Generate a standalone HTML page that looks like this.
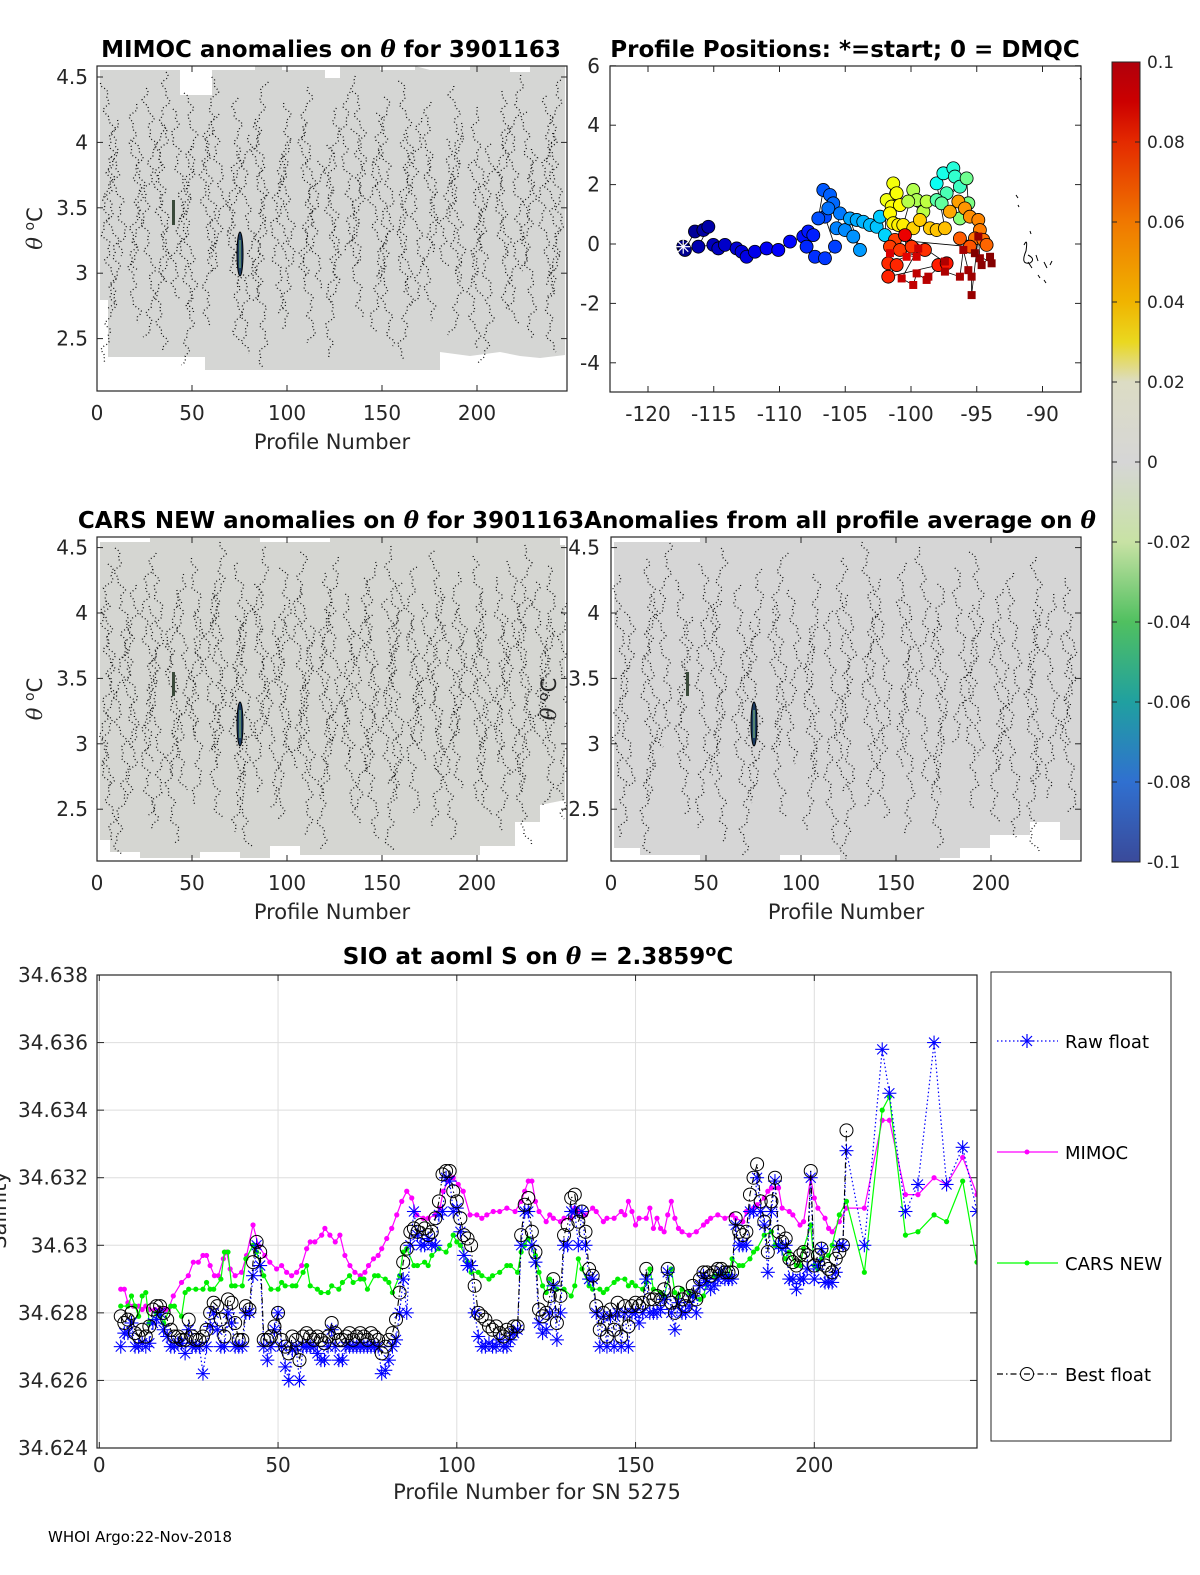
<!DOCTYPE html>
<html><head><meta charset="utf-8"><style>
html,body{margin:0;padding:0;background:#fff;}
svg{display:block;font-family:"DejaVu Sans","Liberation Sans",sans-serif;}
.tk{font-size:20px;fill:#262626;}
.lb{font-size:21px;fill:#262626;}
.ttl{font-size:23px;font-weight:bold;fill:#000;}
</style></head><body>
<svg id="fig" width="1200" height="1575" viewBox="0 0 1200 1575" xmlns="http://www.w3.org/2000/svg">
<defs>
<linearGradient id="cbar" x1="0" y1="0" x2="0" y2="1">
<stop offset="0" stop-color="#b0000c"/><stop offset="0.05" stop-color="#cc0000"/>
<stop offset="0.1" stop-color="#e42a00"/><stop offset="0.2" stop-color="#f07800"/>
<stop offset="0.3" stop-color="#f0b400"/><stop offset="0.35" stop-color="#ead820"/>
<stop offset="0.4" stop-color="#dcdcc4"/><stop offset="0.5" stop-color="#d6d6d6"/>
<stop offset="0.6" stop-color="#c8e2a4"/><stop offset="0.7" stop-color="#50c060"/>
<stop offset="0.8" stop-color="#20a0a0"/><stop offset="0.9" stop-color="#3070d0"/>
<stop offset="1" stop-color="#3a4a9a"/>
</linearGradient>
<clipPath id="clipA"><rect x="97" y="66" width="470" height="325"/></clipPath>
<clipPath id="clipC"><rect x="97" y="537" width="470" height="324"/></clipPath>
<clipPath id="clipD"><rect x="611" y="537" width="470" height="324"/></clipPath>
<clipPath id="clipM"><rect x="610" y="66" width="471" height="326"/></clipPath>
<clipPath id="clipS"><rect x="97" y="975" width="880" height="473"/></clipPath>
</defs>

<text class="ttl" x="331" y="57" text-anchor="middle">MIMOC anomalies on <tspan font-style="italic" font-family="DejaVu Serif">θ</tspan>  for 3901163</text>
<text class="ttl" x="845" y="57" text-anchor="middle">Profile Positions: *=start; 0 = DMQC</text>
<text class="ttl" x="331" y="528" text-anchor="middle">CARS NEW anomalies on <tspan font-style="italic" font-family="DejaVu Serif">θ</tspan> for 3901163</text>
<text class="ttl" x="840" y="528" text-anchor="middle">Anomalies from all profile average on <tspan font-style="italic" font-family="DejaVu Serif">θ</tspan></text>
<text class="ttl" x="538" y="964" text-anchor="middle">SIO at aoml S on <tspan font-style="italic" font-family="DejaVu Serif">θ</tspan> = 2.3859<tspan dy="-8" font-size="16">o</tspan><tspan dy="8">C</tspan></text>

<g id="panelA">
<polygon fill="#d5d6d4" points="100,70 180,70 180,95 212,95 212,70 255,70 255,66 282,66 282,70 325,70 325,78 340,78 340,66 380,66 380,70 415,70 415,66 430,70 470,70 470,66 510,66 510,72 530,72 530,66 565,66 565,355 540,358 520,356 500,352 470,356 440,352 440,370 420,370 400,370 330,370 300,370 230,370 205,370 205,357 108,357 108,300 100,300"/>
<g id="contA" clip-path="url(#clipA)"></g>
<ellipse cx="240" cy="254" rx="3" ry="22" fill="#1a3a60" stroke="#000" stroke-width="1"/>
<line x1="240" y1="240" x2="240" y2="268" stroke="#8fd080" stroke-width="1"/>
<rect x="172" y="200" width="3" height="25" fill="#3a4a3a"/>
<rect x="97" y="66" width="470" height="325" fill="none" stroke="#262626" stroke-width="1.2"/>
</g>

<g id="panelC">
<polygon fill="#d5d6d2" points="100,542 150,542 150,538 260,538 260,542 330,542 330,538 560,538 560,545 565,545 565,800 540,805 540,822 515,822 515,846 480,846 480,855 300,855 300,846 270,846 270,858 240,858 240,852 200,852 200,858 140,858 140,852 110,852 110,840 100,840"/>
<g id="contC" clip-path="url(#clipC)"></g>
<ellipse cx="240" cy="724" rx="3" ry="22" fill="#1a3a60" stroke="#000" stroke-width="1"/>
<line x1="240" y1="710" x2="240" y2="738" stroke="#8fd080" stroke-width="1"/>
<rect x="172" y="672" width="3" height="24" fill="#3a4a3a"/>
<rect x="97" y="537" width="470" height="324" fill="none" stroke="#262626" stroke-width="1.2"/>
</g>

<g id="panelD">
<polygon fill="#d6d6d6" points="614,542 700,542 700,538 1080,538 1080,840 1060,840 1060,822 1030,822 1030,835 990,835 990,848 960,848 960,858 940,858 940,861 840,861 840,855 780,855 780,861 700,861 700,855 640,855 640,848 614,848"/>
<g id="contD" clip-path="url(#clipD)"></g>
<ellipse cx="754" cy="724" rx="3" ry="22" fill="#1a3a60" stroke="#000" stroke-width="1"/>
<line x1="754" y1="710" x2="754" y2="738" stroke="#8fd080" stroke-width="1"/>
<rect x="686" y="672" width="3" height="24" fill="#3a4a3a"/>
<rect x="611" y="537" width="470" height="324" fill="none" stroke="#262626" stroke-width="1.2"/>
</g>

<g id="colorbar">
<rect x="1112" y="62" width="28" height="800" fill="url(#cbar)" stroke="#262626" stroke-width="1"/>
</g>

<g id="mapG">
<rect x="610" y="66" width="471" height="326" fill="none" stroke="#262626" stroke-width="1.2"/>
</g>

<g id="salG"></g>

<g id="legend">
<rect x="991" y="972" width="180" height="469" fill="#fff" stroke="#262626" stroke-width="1"/>
<g>
<line x1="997" y1="1041" x2="1058" y2="1041" stroke="#0000ff" stroke-width="1.2" stroke-dasharray="1.5 2.5"/>
<g stroke="#0000ff" stroke-width="1.2"><line x1="1020" y1="1041" x2="1034" y2="1041"/><line x1="1027" y1="1034" x2="1027" y2="1048"/><line x1="1022" y1="1036" x2="1032" y2="1046"/><line x1="1032" y1="1036" x2="1022" y2="1046"/></g>
<text x="1065" y="1048" font-size="18" fill="#000">Raw float</text></g>
<g>
<line x1="997" y1="1152" x2="1058" y2="1152" stroke="#ff00ff" stroke-width="1.2"/><circle cx="1027" cy="1152" r="2.5" fill="#ff00ff"/>
<text x="1065" y="1159" font-size="18" fill="#000">MIMOC</text></g>
<g>
<line x1="997" y1="1263" x2="1058" y2="1263" stroke="#00ff00" stroke-width="1.2"/><circle cx="1027" cy="1263" r="2.5" fill="#00ff00"/>
<text x="1065" y="1270" font-size="18" fill="#000">CARS NEW</text></g>
<g>
<line x1="997" y1="1374" x2="1058" y2="1374" stroke="#000" stroke-width="1.2" stroke-dasharray="6 3 1.5 3"/><circle cx="1027" cy="1374" r="6.5" fill="none" stroke="#000" stroke-width="1"/>
<text x="1065" y="1381" font-size="18" fill="#000">Best float</text></g>
</g>

<text x="48" y="1542" font-size="15" fill="#000">WHOI Argo:22-Nov-2018</text>
</svg>
<script>
const denseStart = 6;
const rawDense = [34.6270,34.6274,34.6274,34.6277,34.6270,34.6270,34.6271,34.6270,34.6271,34.6277,34.6278,34.6280,34.6275,34.6273,34.6270,34.6270,34.6271,34.6271,34.6268,34.6275,34.6270,34.6270,34.6270,34.6262,34.6270,34.6276,34.6280,34.6275,34.6270,34.6270,34.6280,34.6277,34.6270,34.6270,34.6270,34.6280,34.6280,34.6291,34.6300,34.6294,34.6270,34.6266,34.6270,34.6275,34.6280,34.6270,34.6264,34.6260,34.6269,34.6270,34.6260,34.6270,34.6270,34.6270,34.6270,34.6268,34.6266,34.6266,34.6270,34.6275,34.6270,34.6266,34.6266,34.6270,34.6270,34.6270,34.6270,34.6270,34.6270,34.6270,34.6270,34.6270,34.6270,34.6262,34.6263,34.6266,34.6270,34.6272,34.6280,34.6290,34.6280,34.6300,34.6310,34.6303,34.6300,34.6300,34.6302,34.6300,34.6300,34.6309,34.6310,34.6320,34.6319,34.6310,34.6311,34.6304,34.6297,34.6294,34.6294,34.6280,34.6273,34.6270,34.6270,34.6271,34.6270,34.6270,
34.6272,34.6270,34.6270,34.6272,34.6274,34.6275,34.6300,34.6310,34.6310,34.6300,34.6295,34.6277,34.6274,34.6275,34.6280,34.6288,34.6272,34.6280,34.6300,34.6300,34.6310,34.6310,34.6300,34.6310,34.6300,34.6290,34.6290,34.6280,34.6270,34.6279,34.6270,34.6279,34.6270,34.6280,34.6270,34.6280,34.6270,34.6280,34.6280,34.6277,34.6280,34.6290,34.6280,34.6280,34.6280,34.6281,34.6284,34.6292,34.6280,34.6275,34.6283,34.6280,34.6280,34.6282,34.6285,34.6280,34.6288,34.6291,34.6289,34.6287,34.6288,34.6290,34.6292,34.6290,34.6290,34.6290,34.6306,34.6300,34.6300,34.6300,34.6310,34.6310,34.6320,34.6310,34.6306,34.6292,34.6310,34.6319,34.6300,34.6299,34.6300,34.6290,34.6290,34.6287,34.6290,34.6290,34.6293,34.6320,34.6290,34.6294,34.6299,34.6289,34.6289,34.6289,34.6292,34.6300,34.6300];
const sparseProf = [209,214,219,221,225.5,229,233.5,237,241.5,245.5];
const rawSparse = [34.6328,34.6300,34.6358,34.6345,34.6310,34.6318,34.6360,34.6318,34.6329,34.6310];
const bestDense = [34.6279,34.6277,34.6278,34.6280,34.6274,34.6273,34.6275,34.6273,34.6276,34.6281,34.6282,34.6282,34.6280,34.6278,34.6275,34.6273,34.6273,34.6272,34.6272,34.6278,34.6273,34.6272,34.6272,34.6273,34.6275,34.6280,34.6283,34.6282,34.6278,34.6273,34.6284,34.6283,34.6277,34.6272,34.6272,34.6282,34.6281,34.6295,34.6301,34.6298,34.6272,34.6272,34.6273,34.6276,34.6280,34.6272,34.6270,34.6268,34.6273,34.6272,34.6266,34.6273,34.6274,34.6273,34.6272,34.6273,34.6272,34.6271,34.6273,34.6277,34.6274,34.6272,34.6272,34.6273,34.6274,34.6272,34.6273,34.6274,34.6273,34.6272,34.6274,34.6273,34.6272,34.6268,34.6270,34.6272,34.6274,34.6278,34.6286,34.6295,34.6299,34.6304,34.6305,34.6304,34.6306,34.6305,34.6303,34.6304,34.6308,34.6313,34.6321,34.6322,34.6322,34.6316,34.6313,34.6308,34.6303,34.6302,34.6300,34.6288,34.6280,34.6279,34.6278,34.6276,34.6275,34.6276,
34.6274,34.6273,34.6275,34.6274,34.6276,34.6276,34.6303,34.6312,34.6314,34.6304,34.6298,34.6281,34.6279,34.6280,34.6285,34.6290,34.6277,34.6285,34.6303,34.6306,34.6314,34.6315,34.6307,34.6310,34.6304,34.6293,34.6291,34.6282,34.6275,34.6280,34.6273,34.6281,34.6275,34.6283,34.6273,34.6282,34.6276,34.6282,34.6283,34.6282,34.6283,34.6293,34.6284,34.6284,34.6285,34.6284,34.6287,34.6293,34.6283,34.6280,34.6286,34.6284,34.6282,34.6285,34.6288,34.6284,34.6290,34.6292,34.6292,34.6291,34.6292,34.6293,34.6293,34.6292,34.6292,34.6292,34.6308,34.6304,34.6303,34.6304,34.6315,34.6320,34.6324,34.6313,34.6307,34.6298,34.6313,34.6320,34.6304,34.6301,34.6302,34.6296,34.6295,34.6294,34.6297,34.6298,34.6297,34.6322,34.6294,34.6297,34.6299,34.6294,34.6293,34.6292,34.6296,34.6298,34.6300,34.6334];
const mimocProf = [6,7,8,9.5,11,12,13,14,15.6,17,18.4,19.3,20.7,23,24.9,26.3,27.7,29,30,31,32.2,33.3,34.7,35.6,36.6,38,39.8,41.2,43,44.5,46.3,47.7,49.6,51,52.4,53.8,55.2,56.6,58,59,60.3,62.2,63.1,64.5,66,67.3,68.7,70.1,71.5,73,74.3,75.3,76.7,78,79,80.4,81.8,83.2,84.6,86,87.4,88.8,90.6,92,94,95.3,96.2,97.6,99,100.4,101.8,103.7,105.6,107,108.4,110.2,112,114,116.3,118,119,120,121,122,123,125,126,127,129,130,132,133,134,136,138,139,141,142,144,146,147,148,149,150,151,153,154,155,156,157,158,159,160,161,162,163,165,167,169,170,171,173,175,177,178,180,181,183,184,186,187,188,190,191,193,194,196,197,199,200,201,203,204,205,207,209,214,219,221,225.5,229,233.5,237,241.5,245.5];
const mimocVal = [34.6287,34.6287,34.6283,34.6282,34.6282,34.6281,34.6282,34.6281,34.6281,34.6281,34.6281,34.6281,34.6285,34.6289,34.6291,34.6295,34.6295,34.6297,34.6297,34.6294,34.6291,34.6291,34.6296,34.6298,34.6293,34.6291,34.6292,34.6297,34.6306,34.6300,34.6297,34.6295,34.6293,34.6294,34.6292,34.6291,34.6292,34.6294,34.6299,34.6301,34.6301,34.6303,34.6305,34.6303,34.6301,34.6303,34.6297,34.6294,34.6292,34.6291,34.6292,34.6294,34.6296,34.6297,34.6299,34.6302,34.6305,34.6309,34.6313,34.6316,34.6314,34.6309,34.6308,34.6308,34.6309,34.6311,34.6316,34.6319,34.6320,34.6318,34.6316,34.6309,34.6309,34.6308,34.6309,34.6310,34.6310,34.6311,34.6310,34.6313,34.6316,34.6319,34.6319,34.6313,34.6310,34.6307,34.6309,34.6308,34.6307,34.6308,34.6308,34.6311,34.6310,34.6309,34.6311,34.6310,34.6307,34.6308,34.6308,34.6310,34.6309,34.6313,34.6310,34.6306,34.6308,34.6308,34.6311,34.6305,34.6308,34.6305,34.6304,34.6309,34.6313,34.6308,34.6305,34.6304,34.6303,34.6304,34.6306,34.6307,34.6308,34.6309,34.6308,34.6309,34.6308,34.6307,34.6310,34.6311,34.6312,34.6314,34.6316,34.6317,34.6317,34.6311,34.6310,34.6309,34.6306,34.6307,34.6320,34.6314,34.6311,34.6308,34.6305,34.6304,34.6307,34.6311,34.6311,34.6337,34.6337,34.6315,34.6315,34.6320,34.6318,34.6326,34.6315];
const carsProf = [6,8,9,10,11,12,13,14,16,17,18,20,21,23,24,25,27,29,30,31,32,34,35,36,37,38,40,41,43,44,46,48,50,51,52,54,55,57,58,59,61,62,64,65,67,68,70,71,73,74,75,77,78,80,81,82,84,85,86,88,89,91,92,93,95,97,98,99,100,101,103,104,106,107,109,110,112,114,115,117,118,119,120,122,123,124,125,126,128,130,132,133,134,135,137,138,140,141,142,144,145,147,148,149,150,152,153,154,155,157,158,160,161,162,163,165,166,168,169,170,172,174,176,177,179,180,182,183,184,186,188,189,190,192,193,195,196,197,199,200,201,202,204,205,207,209,214,219,221,225.5,229,233.5,237,241.5,245.5];
const carsVal = [34.6282,34.6282,34.6285,34.6282,34.6279,34.6285,34.6286,34.6277,34.6280,34.6279,34.6277,34.6282,34.6282,34.6279,34.6286,34.6287,34.6287,34.6287,34.6289,34.6287,34.6287,34.6290,34.6298,34.6298,34.6288,34.6288,34.6288,34.6296,34.6300,34.6298,34.6291,34.6287,34.6287,34.6289,34.6288,34.6288,34.6288,34.6292,34.6294,34.6288,34.6287,34.6286,34.6286,34.6288,34.6287,34.6289,34.6291,34.6289,34.6290,34.6290,34.6287,34.6291,34.6291,34.6290,34.6289,34.6286,34.6291,34.6298,34.6299,34.6294,34.6294,34.6295,34.6294,34.6297,34.6299,34.6298,34.6300,34.6303,34.6301,34.6300,34.6295,34.6292,34.6292,34.6291,34.6290,34.6291,34.6292,34.6294,34.6294,34.6292,34.6298,34.6300,34.6302,34.6297,34.6292,34.6288,34.6286,34.6290,34.6287,34.6287,34.6285,34.6288,34.6296,34.6293,34.6288,34.6287,34.6287,34.6286,34.6287,34.6289,34.6290,34.6290,34.6288,34.6289,34.6288,34.6287,34.6289,34.6293,34.6287,34.6286,34.6285,34.6293,34.6286,34.6285,34.6287,34.6286,34.6285,34.6284,34.6285,34.6289,34.6291,34.6292,34.6291,34.6296,34.6294,34.6294,34.6296,34.6298,34.6299,34.6303,34.6304,34.6300,34.6300,34.6296,34.6298,34.6294,34.6294,34.6299,34.6306,34.6294,34.6293,34.6296,34.6297,34.6300,34.6309,34.6313,34.6292,34.6340,34.6344,34.6303,34.6304,34.6309,34.6307,34.6319,34.6295];
const sTicksY = [34.624,34.626,34.628,34.63,34.632,34.634,34.636,34.638];
const sTickLabY = ["34.624","34.626","34.628","34.63","34.632","34.634","34.636","34.638"];
const sTicksX = [0,50,100,150,200];

const mapLon = [-117.32,-117.19,-116.43,-115.79,-115.41,-116.17,-115.03,-114.65,-114.15,-113.26,-112.88,-112.50,-111.87,-110.98,-110.09,-109.20,-108.19,-107.81,-107.43,-107.94,-107.30,-106.54,-105.78,-106.54,-107.05,-106.67,-106.16,-105.91,-106.29,-105.40,-105.66,-105.02,-104.39,-103.88,-104.64,-104.13,-103.63,-103.12,-102.61,-102.36,-101.98,
-101.85,-101.35,-101.09,-101.47,-100.84,-101.60,-101.35,-100.97,-100.59,
-99.83,-99.57,-100.21,-99.06,-98.81,
-99.83,-99.32,-98.56,-98.05,-97.42,
-98.05,-97.54,-96.78,-96.66,-96.28,-97.29,-98.05,-97.67,-95.77,-95.64,-96.28,
-97.04,-96.40,-95.90,-95.52,-94.88,-94.76,-95.14,-94.50,-94.25,-96.28,-95.52,
-101.22,-101.60,-100.84,-99.95,-98.94,-101.73,-101.09,-101.73,-97.92,-97.29,
-100.46,-100.33,-101.60,-99.57,-99.45,-100.71,-99.83,-99.57,-98.81,-98.68,-97.42,-97.42,-96.28,-96.02,-95.64,-95.39,-95.39,-94.88,-94.76,-94.63,-93.99,-93.87,-95.14];
const mapLat = [-0.09,-0.20,0.42,0.47,0.58,-0.09,-0.03,-0.15,-0.03,-0.15,-0.26,-0.43,-0.26,-0.15,-0.20,0.08,0.25,0.42,0.30,-0.09,-0.43,-0.48,-0.09,0.92,0.86,1.82,1.65,1.37,1.20,1.03,0.53,0.47,0.25,-0.20,0.86,0.81,0.75,0.64,0.58,0.92,0.30,
1.48,2.04,1.71,1.26,1.31,1.03,0.70,0.64,0.64,
1.82,1.48,1.43,1.09,1.43,
0.53,0.81,0.53,0.47,0.53,
2.04,2.38,2.55,2.27,1.93,1.71,1.48,1.37,2.21,1.37,0.86,
1.09,1.43,1.20,0.92,0.81,0.47,0.19,0.14,-0.03,0.19,-0.09,
0.14,-0.09,-0.20,-0.09,-0.20,-0.65,-0.71,-1.10,-0.71,-0.65,
0.30,-0.43,-0.31,-0.43,-0.15,-1.16,-1.38,-0.99,-1.21,-1.10,-0.59,-0.93,-1.10,-0.20,-0.88,-1.10,-1.72,0.25,-0.48,-0.71,-0.43,-0.65,-0.31];
const mapProf = [2,4,6,8,10,12,14,16,18,20,22,24,26,28,30,32,34,36,38,40,42,44,46,48,50,52,54,56,58,60,62,64,66,68,70,72,74,76,78,80,82,
150,151,152,153,154,155,156,157,158,
135,134,136,137,138,
165,166,167,168,169,
95,98,101,104,107,110,113,116,119,122,125,
175,177,179,181,183,185,187,189,191,193,195,
200,201,202,203,204,205,206,207,208,210,
220,222,224,226,228,229,230,231,232,233,234,235,236,237,238,239,240,241,242,243,244,245,246];
const mapIsDmqc = 92;
const mapTicksX = [-120,-115,-110,-105,-100,-95,-90];
const mapTicksY = [-4,-2,0,2,4,6];

const thetaTicks = [2.5,3,3.5,4,4.5];
const profTicks = [0,50,100,150,200];
const cbarTicks = [0.1,0.08,0.06,0.04,0.02,0,-0.02,-0.04,-0.06,-0.08,-0.1];
const cbarLabels = ["0.1","0.08","0.06","0.04","0.02","0","-0.02","-0.04","-0.06","-0.08","-0.1"];

const NS = "http://www.w3.org/2000/svg";
function mk(tag, attrs, parent){const e=document.createElementNS(NS,tag);for(const k in attrs)e.setAttribute(k,attrs[k]);parent.appendChild(e);return e;}
const fig = document.getElementById('fig');

function anomalyAxes(x0,y0,w,h,xScale,yScale,leftLabX,ylabX){
  const g = mk('g',{},fig);
  
  
  thetaTicks.forEach(t=>{const y=yScale(t);
    mk('line',{x1:x0,y1:y,x2:x0+6,y2:y,stroke:'#262626'},g);
    mk('line',{x1:x0+w,y1:y,x2:x0+w-6,y2:y,stroke:'#262626'},g);
    const tx=mk('text',{x:leftLabX,y:y+7,'text-anchor':'end',class:'tk'},g);tx.textContent=String(t);
    
    });
  profTicks.forEach(p=>{const x=xScale(p);
    mk('line',{x1:x,y1:y0+h,x2:x,y2:y0+h-6,stroke:'#262626'},g);
    mk('line',{x1:x,y1:y0,x2:x,y2:y0+6,stroke:'#262626'},g);
    const tx=mk('text',{x:x,y:y0+h+29,'text-anchor':'middle',class:'tk'},g);tx.textContent=String(p);
    
    });
  const xl=mk('text',{x:x0+w/2,y:y0+h+58,'text-anchor':'middle',class:'lb'},g);xl.textContent='Profile Number';
  
  
  const yl=mk('text',{x:0,y:0,transform:`translate(${ylabX},${y0+h/2}) rotate(-90)`,'text-anchor':'middle',class:'lb'},g);
  yl.innerHTML='<tspan font-style="italic" font-family="DejaVu Serif">θ</tspan> <tspan dy="-8" font-size="14">o</tspan><tspan dy="8">C</tspan>';
  
  
}
anomalyAxes(97,66,470,325,p=>97+p*1.9,t=>77+(4.5-t)*130.8,88,42);
anomalyAxes(97,537,470,324,p=>97+p*1.9,t=>547.6+(4.5-t)*130.8,88,42);
anomalyAxes(611,537,470,324,p=>611+p*1.9,t=>547.6+(4.5-t)*130.8,600,556);

function contours(id,x0,x1,yt,yb,n,seed){
  const g=document.getElementById(id);
  for(let i=0;i<n;i++){
    const bx=x0+(x1-x0)*(i+0.5)/n + 5*Math.sin(i*2.3+seed);
    const top=yt+ (i*37+seed*11)%90, bot=yb-((i*53+seed*7)%120);
    let d='';
    for(let y=top;y<=bot;y+=3){const x=bx+4*Math.sin(y*0.045+i*1.3+seed)+3*Math.sin(y*0.21+i*1.7)+2*Math.sin(y*0.5+i);d+=(d?'L':'M')+x.toFixed(1)+','+y;}
    const p=mk('path',{d:d,fill:'none',stroke:'#111','stroke-width':1.3,'stroke-dasharray':'1 2.5'},g);
    
    
  }
}
contours('contA',100,565,72,370,52,1);
contours('contC',100,565,542,855,58,2);
contours('contD',614,1080,542,860,40,3);

const cb=document.getElementById('colorbar');
cbarTicks.forEach((v,i)=>{const y=62+(0.1-v)/0.2*800;
  mk('line',{x1:1112,y1:y,x2:1117,y2:y,stroke:'#262626'},cb);
  mk('line',{x1:1140,y1:y,x2:1135,y2:y,stroke:'#262626'},cb);
  const t=mk('text',{x:1147,y:y+6,'font-size':'17',fill:'#262626'},cb);t.textContent=cbarLabels[i];
  
  });

function jet(t){t=Math.max(0,Math.min(1,t));
  const r=Math.max(0,Math.min(1,1.5-Math.abs(4*t-3))),g=Math.max(0,Math.min(1,1.5-Math.abs(4*t-2))),b=Math.max(0,Math.min(1,1.5-Math.abs(4*t-1)));
  return `rgb(${Math.round(r*255)},${Math.round(g*255)},${Math.round(b*255)})`;}
const mg=document.getElementById('mapG');
const MX=lon=>648+(lon+120)*13.15, MY=lat=>244-lat*29.7;
mapTicksX.forEach(v=>{const x=MX(v);
  mk('line',{x1:x,y1:392,x2:x,y2:386,stroke:'#262626'},mg);mk('line',{x1:x,y1:66,x2:x,y2:72,stroke:'#262626'},mg);
  const t=mk('text',{x:x,y:421,'text-anchor':'middle',class:'tk'},mg);t.textContent=String(v);
  
  });
mapTicksY.forEach(v=>{const y=MY(v);
  mk('line',{x1:610,y1:y,x2:616,y2:y,stroke:'#262626'},mg);mk('line',{x1:1081,y1:y,x2:1075,y2:y,stroke:'#262626'},mg);
  const t=mk('text',{x:600,y:y+7,'text-anchor':'end',class:'tk'},mg);t.textContent=String(v);
  
  });
const mc=mk('g',{'clip-path':'url(#clipM)'},mg);
let trk='';mapLon.forEach((lo,i)=>{trk+=(i?'L':'M')+MX(lo).toFixed(1)+','+MY(mapLat[i]).toFixed(1);});
const tp=mk('path',{d:trk,fill:'none',stroke:'#000','stroke-width':0.8},mc);


mapLon.forEach((lo,i)=>{const x=MX(lo),y=MY(mapLat[i]);const c=jet(mapProf[i]/246);
  let m;
  if(i>mapIsDmqc){m=mk('rect',{x:x-4,y:y-4,width:8,height:8,fill:c,stroke:'none'},mc);}
  else{m=mk('circle',{cx:x,cy:y,r:6.5,fill:c,stroke:'#000','stroke-width':0.8},mc);}
  
  });
const sx=MX(mapLon[0]),sy=MY(mapLat[0]);
const st=mk('g',{stroke:'#fff','stroke-width':1.2},mc);


[[0,7],[7,0],[5,5],[5,-5]].forEach(([a,b])=>mk('line',{x1:sx-a,y1:sy-b,x2:sx+a,y2:sy+b},st));
const sm=mk('g',{fill:'none',stroke:'#000','stroke-width':1},mc);


mk('path',{d:'M1024,245 q4,-8 2,6 q-6,14 4,12 q6,-4 -2,-8 M1028,262 l4,6 M1036,255 l2,6 M1044,262 l3,6 M1050,265 l2,-4 M1038,275 l2,3 M1044,280 l2,3 M1016,195 l2,3 M1018,205 l1,2 M1030,231 l1,3 M1080,78 l1,2'},sm);

const sg=document.getElementById('salG');
const SX=p=>99.3+p*3.575, SY=v=>975+(34.638-v)/0.014*473;
sTicksX.forEach(p=>{const x=SX(p);
  mk('line',{x1:x,y1:975,x2:x,y2:1448,stroke:'#dedede','stroke-width':1},sg);
  mk('line',{x1:x,y1:1448,x2:x,y2:1442,stroke:'#262626'},sg);mk('line',{x1:x,y1:975,x2:x,y2:981,stroke:'#262626'},sg);
  const t=mk('text',{x:x,y:1472,'text-anchor':'middle',class:'tk'},sg);t.textContent=String(p);
  
  });
sTicksY.forEach((v,i)=>{const y=SY(v);
  mk('line',{x1:97,y1:y,x2:977,y2:y,stroke:'#dedede','stroke-width':1},sg);
  mk('line',{x1:97,y1:y,x2:104,y2:y,stroke:'#262626'},sg);mk('line',{x1:977,y1:y,x2:970,y2:y,stroke:'#262626'},sg);
  const t=mk('text',{x:88,y:y+7,'text-anchor':'end',class:'tk'},sg);t.textContent=sTickLabY[i];
  
  });
const xt=mk('text',{x:537,y:1499,'text-anchor':'middle',class:'lb'},sg);xt.textContent='Profile Number for SN 5275';


const yt=mk('text',{x:0,y:0,transform:'translate(6,1210) rotate(-90)','text-anchor':'middle',class:'lb'},sg);yt.textContent='Salinity';


const pc=mk('g',{'clip-path':'url(#clipS)'},sg);

const rawP=[],rawV=[],bestP=[],bestV=[];
rawDense.forEach((v,i)=>{rawP.push(denseStart+i);rawV.push(v);});
sparseProf.forEach((p,i)=>{rawP.push(p);rawV.push(rawSparse[i]);});
bestDense.forEach((v,i)=>{bestP.push(denseStart+i);bestV.push(v);});
function pathOf(ps,vs){return ps.map((p,i)=>(i?'L':'M')+SX(p).toFixed(1)+','+SY(vs[i]).toFixed(1)).join('');}

const l1=mk('path',{d:pathOf(mimocProf,mimocVal),fill:'none',stroke:'#ff00ff','stroke-width':1.2},pc);


mimocProf.forEach((p,i)=>{const c=mk('circle',{cx:SX(p),cy:SY(mimocVal[i]),r:2.6,fill:'#ff00ff'},pc);
  
  });
const l2=mk('path',{d:pathOf(carsProf,carsVal),fill:'none',stroke:'#00ff00','stroke-width':1.2},pc);


carsProf.forEach((p,i)=>{const c=mk('circle',{cx:SX(p),cy:SY(carsVal[i]),r:2.6,fill:'#00ee00'},pc);
  
  });
const l3=mk('path',{d:pathOf(rawP,rawV),fill:'none',stroke:'#0000ff','stroke-width':1.2,'stroke-dasharray':'1.5 2.5'},pc);


rawP.forEach((p,i)=>{const x=SX(p),y=SY(rawV[i]);
  const s=mk('g',{stroke:'#0000ff','stroke-width':1.1},pc);
  
  
  mk('line',{x1:x-7,y1:y,x2:x+7,y2:y},s);mk('line',{x1:x,y1:y-7,x2:x,y2:y+7},s);
  mk('line',{x1:x-5,y1:y-5,x2:x+5,y2:y+5},s);mk('line',{x1:x+5,y1:y-5,x2:x-5,y2:y+5},s);});
const l4=mk('path',{d:pathOf(bestP,bestV),fill:'none',stroke:'#000','stroke-width':1.1,'stroke-dasharray':'6 3 1.5 3'},pc);


bestP.forEach((p,i)=>{const c=mk('circle',{cx:SX(p),cy:SY(bestV[i]),r:6.5,fill:'none',stroke:'#000','stroke-width':1},pc);
  
  });
const bx=mk('rect',{x:97,y:975,width:880,height:473,fill:'none',stroke:'#262626','stroke-width':1.2},sg);


</script>
</body></html>
